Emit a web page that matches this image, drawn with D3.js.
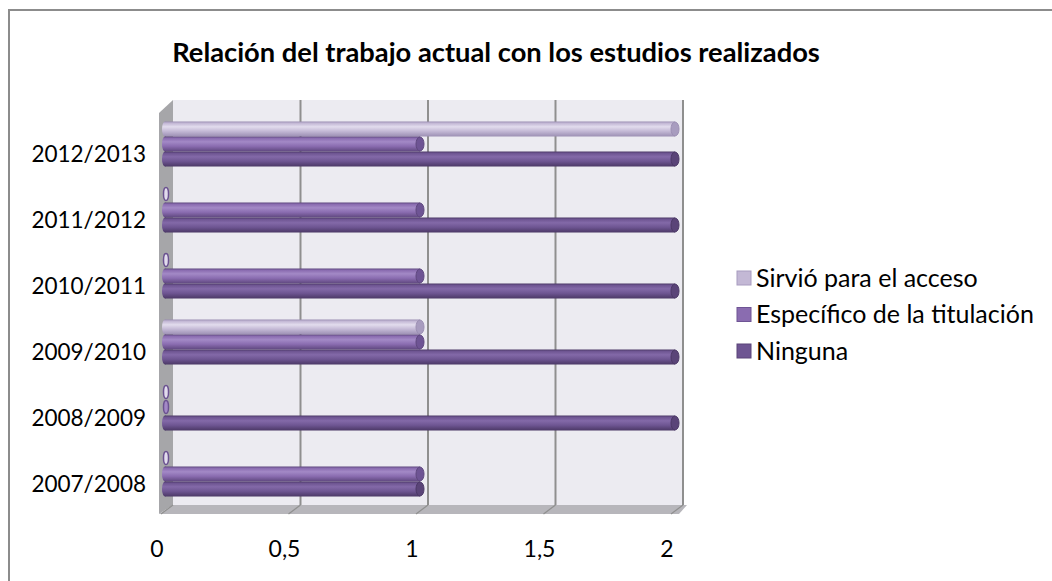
<!DOCTYPE html>
<html>
<head>
<meta charset="utf-8">
<script src="https://cdn.jsdelivr.net/npm/d3@7"></script>
<style>
  body { margin: 0; background: #fff; }
  text { font-family: Lato, "Open Sans", sans-serif; fill: #000; }
</style>
</head>
<body>
<div id="chart"></div>
<script>
// data
const categories = ["2007/2008", "2008/2009", "2009/2010", "2010/2011", "2011/2012", "2012/2013"];
const seriesNames = ["Sirvió para el acceso", "Específico de la titulación", "Ninguna"];
const sirvio = [0, 0, 1, 0, 0, 2];
const especifico = [1, 0, 1, 1, 1, 1];
const ninguna = [1, 2, 2, 2, 2, 2];
const xTicks = [0, 0.5, 1, 1.5, 2];

const seriesValues = [sirvio, especifico, ninguna];
const seriesColors = [
  { base: "#c3b8d5", light: "#e2dced", dark: "#9c8fb3", cap: "#a89cbf" },
  { base: "#8a6cb0", light: "#a389c6", dark: "#5e477e", cap: "#6e5494" },
  { base: "#6e5592", light: "#8369a8", dark: "#4b3866", cap: "#5a4478" }
];

const W = 1052, H = 581;
const depthX = 8;

const svg = d3.select("#chart").append("svg")
  .attr("width", W).attr("height", H);

// outer frame
svg.append("rect")
  .attr("x", 9).attr("y", 10)
  .attr("width", W + 20).attr("height", H + 20)
  .attr("fill", "#fff").attr("stroke", "#8c8c8c").attr("stroke-width", 2);

const x = d3.scaleLinear().domain([0, 2]).range([165, 675]);

const y = d3.scaleBand()
  .domain(categories.slice().reverse())
  .range([111, 507])
  .paddingInner(0.318)
  .paddingOuter(0.159);

const y1 = d3.scaleBand()
  .domain(seriesNames)
  .range([0, y.bandwidth()]);

// gradients for the cylinders
const defs = svg.append("defs");
seriesColors.forEach((c, i) => {
  const g = defs.append("linearGradient")
    .attr("id", "grad" + i)
    .attr("x1", 0).attr("y1", 0).attr("x2", 0).attr("y2", 1);
  g.append("stop").attr("offset", "0%").attr("stop-color", c.dark);
  g.append("stop").attr("offset", "12%").attr("stop-color", c.base);
  g.append("stop").attr("offset", "35%").attr("stop-color", c.light);
  g.append("stop").attr("offset", "65%").attr("stop-color", c.base);
  g.append("stop").attr("offset", "100%").attr("stop-color", c.dark);
});

// walls
const backLeft = x(0) + depthX, backRight = x(2) + depthX;
const backTop = 100, backBottom = 505;

svg.append("rect")
  .attr("x", backLeft).attr("y", backTop)
  .attr("width", backRight - backLeft).attr("height", backBottom - backTop)
  .attr("fill", "#ecebf1");

// side wall
svg.append("polygon")
  .attr("points", [[159, 113], [backLeft, backTop], [backLeft, backBottom], [159, 514]].join(" "))
  .attr("fill", "#a6a6a9");

// floor
svg.append("polygon")
  .attr("points", [[159, 514], [backLeft, backBottom], [backRight + 4, backBottom], [backRight - 4, 514]].join(" "))
  .attr("fill", "#b7b6bb");

// gridlines on back wall and floor
xTicks.filter(d => d > 0).forEach(v => {
  svg.append("line")
    .attr("x1", x(v) + depthX).attr("x2", x(v) + depthX)
    .attr("y1", backTop).attr("y2", backBottom)
    .attr("stroke", "#8f8f8f").attr("stroke-width", 2);
});
xTicks.forEach(v => {
  svg.append("line")
    .attr("x1", x(v) + depthX).attr("x2", x(v) - 4)
    .attr("y1", backBottom).attr("y2", 514)
    .attr("stroke", "#8f8f8f").attr("stroke-width", 1.2);
});

// bars, one small cylinder per value
seriesNames.forEach((name, si) => {
  const c = seriesColors[si];
  const h = y1.bandwidth();
  const rows = categories.map((cat, ci) => ({ cat, v: seriesValues[si][ci] }));

  rows.forEach(r => {
    const g = svg.append("g")
      .attr("transform", `translate(0,${y(r.cat) + y1(name)})`);
    if (r.v === 0) {
      // empty value: only the end disc is visible
      g.append("ellipse")
        .attr("cx", x(0) + 1).attr("cy", h / 2 - 1)
        .attr("rx", 2.5).attr("ry", h / 2 - 1)
        .attr("fill", c.light).attr("stroke", "#6a5190").attr("stroke-width", 1.5);
      return;
    }
    g.append("ellipse")
      .attr("cx", x(0)).attr("cy", h / 2)
      .attr("rx", 3).attr("ry", h / 2)
      .attr("fill", `url(#grad${si})`);
    g.append("rect")
      .attr("x", x(0)).attr("y", 0)
      .attr("width", x(r.v) - x(0)).attr("height", h)
      .attr("fill", `url(#grad${si})`);
    g.append("ellipse")
      .attr("cx", x(r.v)).attr("cy", h / 2)
      .attr("rx", 4).attr("ry", h / 2 - 0.5)
      .attr("fill", c.cap).attr("stroke", c.dark).attr("stroke-width", 1);
  });
});

// category labels
svg.selectAll("text.cat")
  .data(categories)
  .join("text")
  .attr("class", "cat")
  .attr("x", 146)
  .attr("y", d => y(d) + y.bandwidth() / 2 + 10)
  .attr("dy", "0.35em")
  .attr("text-anchor", "end")
  .attr("font-size", 22.5)
  .text(d => d);

// x tick labels
svg.selectAll("text.tick")
  .data(xTicks)
  .join("text")
  .attr("class", "tick")
  .attr("x", d => x(d) - 8)
  .attr("y", 549)
  .attr("dy", "0.35em")
  .attr("text-anchor", "middle")
  .attr("font-size", 23)
  .text(d => String(d).replace(".", ","));

// title
svg.append("text")
  .attr("x", 496).attr("y", 52)
  .attr("dy", "0.35em")
  .attr("text-anchor", "middle")
  .attr("font-size", 27.3)
  .attr("font-weight", "bold")
  .text("Relación del trabajo actual con los estudios realizados");

// legend
const legend = svg.selectAll("g.leg")
  .data(seriesNames)
  .join("g")
  .attr("class", "leg")
  .attr("transform", (d, i) => `translate(737,${278 + i * 36.5})`);

legend.append("rect")
  .attr("x", 0).attr("y", -7)
  .attr("width", 14).attr("height", 14)
  .attr("fill", (d, i) => seriesColors[i].base)
  .attr("stroke", (d, i) => seriesColors[i].cap)
  .attr("stroke-width", 1);

legend.append("text")
  .attr("x", 19).attr("y", 0)
  .attr("dy", "0.35em")
  .attr("font-size", 25)
  .text(d => d);
</script>
</body>
</html>
